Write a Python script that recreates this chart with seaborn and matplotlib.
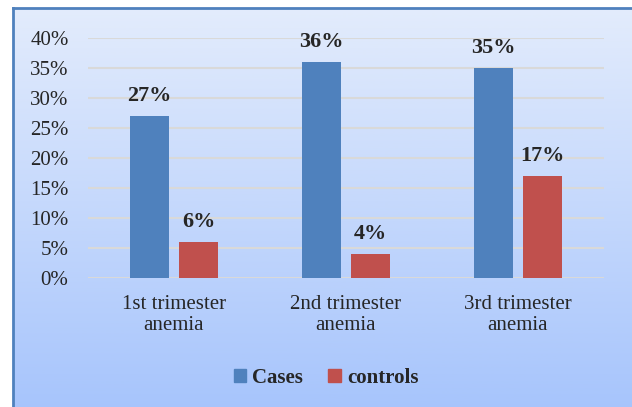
import numpy as np
import pandas as pd
import matplotlib.pyplot as plt
import seaborn as sns

categories = ["1st trimester\nanemia", "2nd trimester\nanemia", "3rd trimester\nanemia"]
cases = [27, 36, 35]
controls = [6, 4, 17]
series_names = ["Cases", "controls"]
colors = ["#4F81BD", "#C0504D"]

df = pd.DataFrame({
    "category": categories * 2,
    "value": cases + controls,
    "group": [series_names[0]] * 3 + [series_names[1]] * 3,
})

sns.set_style("white")
plt.rcParams["font.family"] = ["Liberation Serif", "DejaVu Serif"]

fig = plt.figure(figsize=(6.32, 4.07), dpi=100)

# gradient background panel with blue frame
bg = fig.add_axes([13 / 632, -0.02, 1.0, 1 - 8 / 407 + 0.02], zorder=0)
grad = np.linspace(0, 1, 256).reshape(-1, 1)
top = np.array([227, 236, 252]) / 255
bot = np.array([166, 196, 252]) / 255
img = top[None, None, :] * (1 - grad[:, :, None]) + bot[None, None, :] * grad[:, :, None]
bg.imshow(img, aspect="auto", extent=[0, 1, 0, 1])
bg.set_xticks([])
bg.set_yticks([])
for s in ["right", "bottom"]:
    bg.spines[s].set_visible(False)
for s in ["left", "top"]:
    bg.spines[s].set_color("#4F81BD")
    bg.spines[s].set_linewidth(2)

ax = fig.add_axes([88 / 632, 1 - 278 / 407, (604 - 88) / 632, 240 / 407], zorder=1)
ax.patch.set_alpha(0)
sns.barplot(data=df, x="category", y="value", hue="group", palette=colors,
            width=0.57, gap=0.2, ax=ax, legend=False, saturation=1, linewidth=0)

ax.set_xlim(-0.5, 2.5)
ax.set_ylim(0, 40)
ax.set_yticks(range(0, 41, 5))
ax.set_yticklabels([f"{v}%" for v in range(0, 41, 5)], fontsize=15)
ax.tick_params(axis="x", labelsize=15, length=0, pad=12)
ax.tick_params(axis="y", length=0, pad=14)
ax.set_xlabel("")
ax.set_ylabel("")
ax.grid(axis="y", color="#D9D9D9", linewidth=1.5)
ax.set_axisbelow(True)
for s in ax.spines.values():
    s.set_visible(False)
for t in ax.get_xticklabels():
    t.set_linespacing(1.2)

for cont in ax.containers:
    ax.bar_label(cont, labels=[f"{int(v)}%" for v in cont.datavalues],
                 padding=7, fontsize=16, fontweight="bold")

handles = [plt.Rectangle((0, 0), 1, 1, color=c) for c in colors]
fig.legend(handles, series_names, loc="center", bbox_to_anchor=(326 / 632, 1 - 378 / 407),
           ncol=2, frameon=False, handlelength=0.6, handleheight=0.6,
           handletextpad=0.3, columnspacing=1.2,
           prop={"weight": "bold", "size": 15})

fig.savefig("out.png", dpi=100)
